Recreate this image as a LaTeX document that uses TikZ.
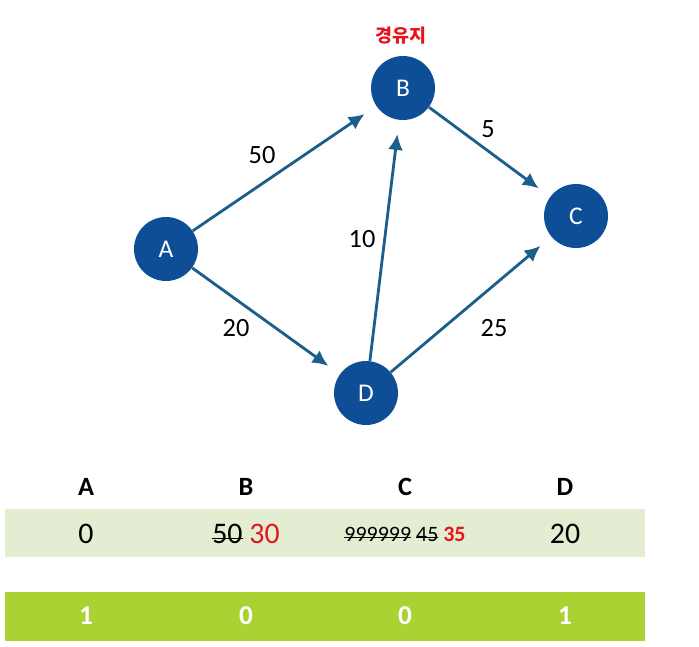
\documentclass[tikz,border=0pt]{standalone}
\usepackage{fontspec}
\setmainfont{Carlito}
\newfontfamily\kor{Noto Sans CJK KR}
\usetikzlibrary{arrows.meta}
\definecolor{nodeblue}{HTML}{0E4E96}
\definecolor{edgeblue}{HTML}{1B5E8C}
\definecolor{rowlight}{HTML}{E2EDD2}
\definecolor{rowdark}{HTML}{A9D232}
\definecolor{hotred}{HTML}{E8141C}
\newcommand\strk[1]{\setbox0\hbox{#1}\rlap{\raisebox{0.3ex}{\rule{\wd0}{0.6pt}}}\box0\relax}

\begin{document}
\begin{tikzpicture}[x=0.02cm,y=-0.02cm,
  vtx/.style={circle,fill=nodeblue,minimum size=1.28cm,inner sep=0pt,text=white,font=\fontsize{14.5}{16}\selectfont},
  edge/.style={draw=edgeblue,line width=1.6pt,-{Latex[length=9pt,width=8.5pt]},shorten >=8pt},
  wt/.style={font=\fontsize{15}{17}\selectfont}]
\useasboundingbox (0,0) rectangle (699,646);
% graph
\node[vtx] (A) at (166,249) {A}; \node[vtx] (B) at (403,88) {B};
\node[vtx] (C) at (576,216) {C}; \node[vtx] (D) at (366,393) {D};
\node[font=\kor\bfseries\fontsize{10.5}{12}\selectfont,text=hotred] (via) at (401,36) {경유지};
\draw[edge] (A)--(B); \draw[edge] (A)--(D); \draw[edge] (D)--(B);
\draw[edge] (B)--(C); \draw[edge] (D)--(C);
\node[wt] (wAB) at (262,155) {50};
\node[wt] (wAD) at (236,328) {20};
\node[wt] (wDB) at (362,239) {10};
\node[wt] (wBC) at (488,129) {5};
\node[wt] (wDC) at (494,328) {25};
% table
\fill[rowlight] (5,509) rectangle (645,557);
\fill[rowdark] (5,592) rectangle (645,641);
\foreach \n/\x/\f in {A/86/1,B/246/0,C/405/0,D/565/1}{
  \node[font=\bfseries\fontsize{15}{17}\selectfont] (h\n) at (\x,487) {\n};
  \node[font=\bfseries\fontsize{15.5}{17}\selectfont,text=white] (f\n) at (\x,616) {\f};}
\node[font=\fontsize{17}{19}\selectfont] (dA) at (86,534) {0};
\node[font=\fontsize{17}{19}\selectfont] (dB) at (246,534) {\strk{50} \textcolor{hotred}{30}};
\node[font=\fontsize{12.5}{14}\selectfont] (dC) at (405,534) {\strk{999999} \strk{45} \textcolor{hotred}{\textbf{35}}};
\node[font=\fontsize{17}{19}\selectfont] (dD) at (565,534) {20};
\end{tikzpicture}
\end{document}
